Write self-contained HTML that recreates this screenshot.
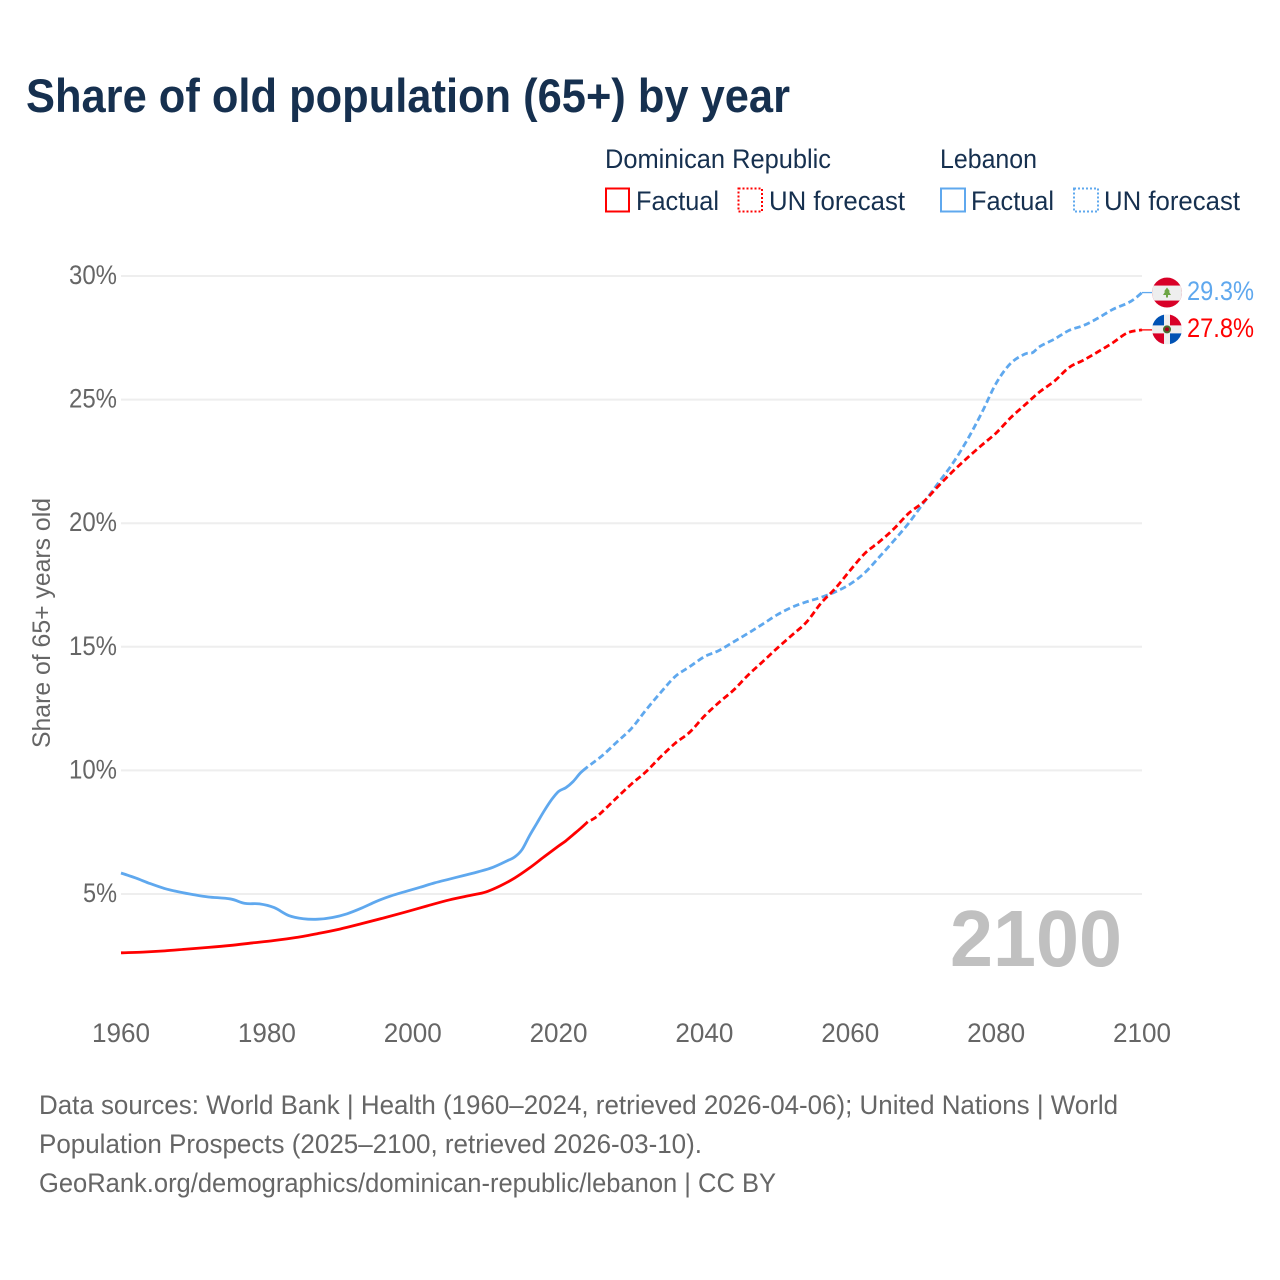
<!DOCTYPE html>
<html lang="en">
<head>
<meta charset="utf-8">
<title>Share of old population (65+) by year</title>
<style>
  html, body { margin: 0; padding: 0; background: #fff; }
  svg { display: block; }
  text { font-family: "Liberation Sans", sans-serif; }
</style>
</head>
<body>
<svg id="chart" xmlns="http://www.w3.org/2000/svg" width="1280" height="1280" viewBox="0 0 1280 1280">
  <defs>
    <clipPath id="flag-clip"><circle cx="0" cy="0" r="15"></circle></clipPath>
  </defs>
  <rect x="0" y="0" width="1280" height="1280" fill="#ffffff"></rect>

  <text x="26" y="112" font-size="47" font-weight="700" fill="#16304f" textLength="764" lengthAdjust="spacingAndGlyphs">Share of old population (65+) by year</text>

  <g font-size="27" fill="#16304f">
    <text x="605" y="168" textLength="226" lengthAdjust="spacingAndGlyphs">Dominican Republic</text>
    <rect x="606" y="188.5" width="23" height="23" fill="none" stroke="#ff0000" stroke-width="2"></rect>
    <text x="636" y="210" textLength="83" lengthAdjust="spacingAndGlyphs">Factual</text>
    <rect x="738.5" y="188.5" width="23.5" height="23" fill="none" stroke="#ff0000" stroke-width="2" stroke-dasharray="2 2"></rect>
    <text x="769" y="210" textLength="136" lengthAdjust="spacingAndGlyphs">UN forecast</text>

    <text x="940" y="168" textLength="97" lengthAdjust="spacingAndGlyphs">Lebanon</text>
    <rect x="941" y="188.5" width="24" height="23" fill="none" stroke="#5fa8ee" stroke-width="2"></rect>
    <text x="971" y="210" textLength="83" lengthAdjust="spacingAndGlyphs">Factual</text>
    <rect x="1074" y="188.5" width="24" height="23" fill="none" stroke="#5fa8ee" stroke-width="2" stroke-dasharray="2 2"></rect>
    <text x="1104" y="210" textLength="136" lengthAdjust="spacingAndGlyphs">UN forecast</text>
  </g>

  <g id="grid"></g>
  <g id="y-axis"></g>
  <g id="x-axis"></g>

  <text transform="translate(50,623) rotate(-90)" text-anchor="middle" font-size="25" fill="#666666" textLength="250" lengthAdjust="spacingAndGlyphs">Share of 65+ years old</text>

  <text x="950" y="966" font-size="80" font-weight="700" fill="#c0c0c0" textLength="172" lengthAdjust="spacingAndGlyphs">2100</text>

  <g id="series"></g>

  <g id="flag-lebanon">
    <g clip-path="url(#flag-clip)">
      <rect x="-15" y="-15" width="30" height="30" fill="#d80027"></rect>
      <rect x="-15" y="-7" width="30" height="15" fill="#eeeeee"></rect>
      <path d="M0 -5 L3 -1 L1.8 -1 L4 2.5 L1 2.5 L1 5 L-1 5 L-1 2.5 L-4 2.5 L-1.8 -1 L-3 -1 Z" fill="#6da544"></path>
    </g>
  </g>
  <g id="flag-dominican">
    <g clip-path="url(#flag-clip)">
      <rect x="-15" y="-15" width="30" height="30" fill="#eeeeee"></rect>
      <rect x="-15" y="-15" width="12" height="11" fill="#0052b4"></rect>
      <rect x="3" y="-15" width="12" height="11" fill="#d80027"></rect>
      <rect x="-15" y="4" width="12" height="11" fill="#d80027"></rect>
      <rect x="3" y="4" width="12" height="11" fill="#0052b4"></rect>
      <circle cx="0" cy="0" r="4" fill="#496e2d"></circle>
      <circle cx="0" cy="0" r="2" fill="#a2001d"></circle>
    </g>
  </g>
  <g id="end-labels"></g>

  <g font-size="27" fill="#666666">
    <text x="39" y="1114" textLength="1079" lengthAdjust="spacingAndGlyphs">Data sources: World Bank | Health (1960–2024, retrieved 2026-04-06); United Nations | World</text>
    <text x="39" y="1153" textLength="663" lengthAdjust="spacingAndGlyphs">Population Prospects (2025–2100, retrieved 2026-03-10).</text>
    <text x="39" y="1192" textLength="737" lengthAdjust="spacingAndGlyphs">GeoRank.org/demographics/dominican-republic/lebanon | CC BY</text>
  </g>
</svg>

<script>
const yTicks = [5, 10, 15, 20, 25, 30];
const xTicks = [1960, 1980, 2000, 2020, 2040, 2060, 2080, 2100];

const lebanonFactualYears = [1960,1962,1964,1966,1968,1970,1972,1975,1977,1979,1981,1983,1985,1987,1989,1991,1993,1995,1997,1999,2001,2003,2005,2007,2009,2011,2013,2014,2015,2016,2017,2018,2019,2020,2021,2022,2023,2024];
const lebanonFactualValues = [5.85,5.65,5.42,5.22,5.08,4.97,4.88,4.8,4.62,4.6,4.45,4.13,4.0,3.98,4.05,4.2,4.43,4.7,4.92,5.1,5.27,5.45,5.6,5.75,5.9,6.08,6.35,6.5,6.8,7.35,7.85,8.35,8.8,9.15,9.3,9.55,9.9,10.15];

const lebanonForecastYears = [2024,2026,2028,2030,2032,2034,2036,2038,2040,2042,2044,2046,2048,2050,2052,2054,2056,2058,2060,2062,2064,2066,2068,2070,2072,2074,2076,2078,2080,2082,2084,2085,2086,2088,2090,2092,2094,2096,2098,2099,2100];
const lebanonForecastValues = [10.15,10.6,11.15,11.7,12.45,13.15,13.8,14.2,14.6,14.85,15.2,15.55,15.92,16.3,16.6,16.82,17.0,17.23,17.54,18.0,18.64,19.3,20.0,20.8,21.6,22.4,23.35,24.45,25.66,26.47,26.85,26.9,27.15,27.45,27.8,28.0,28.3,28.65,28.9,29.08,29.33];

const dominicanFactualYears = [1960,1963,1966,1969,1972,1975,1978,1981,1984,1987,1990,1993,1996,1999,2002,2005,2008,2010,2012,2014,2016,2018,2020,2021,2022,2023,2024];
const dominicanFactualValues = [2.62,2.65,2.7,2.77,2.84,2.92,3.02,3.12,3.24,3.4,3.58,3.8,4.03,4.27,4.52,4.76,4.95,5.08,5.33,5.65,6.05,6.5,6.94,7.15,7.4,7.65,7.92];

const dominicanForecastYears = [2024,2025,2026,2028,2030,2032,2034,2036,2038,2040,2042,2044,2046,2048,2050,2052,2054,2056,2058,2060,2062,2064,2066,2068,2070,2072,2074,2076,2078,2080,2082,2084,2086,2088,2090,2092,2094,2096,2098,2100];
const dominicanForecastValues = [7.92,8.08,8.33,8.9,9.45,9.95,10.55,11.1,11.55,12.2,12.75,13.25,13.86,14.4,14.95,15.47,16.0,16.77,17.38,18.1,18.78,19.25,19.78,20.4,20.85,21.48,22.08,22.63,23.15,23.65,24.27,24.8,25.32,25.75,26.3,26.6,26.94,27.3,27.7,27.82];

const endLabels = ["29.3%", "27.8%"];
const tickSuffix = "%";

const NS = "http://www.w3.org/2000/svg";
function xScale(year) { return 121 + (year - 1960) * (1142 - 121) / 140; }
function yScale(v) { return 894 - (v - 5) * (894 - 276) / 25; }

function linePath(years, values) {
  const pts = years.map(function (yr, i) { return [xScale(yr), yScale(values[i])]; });
  let d = "M" + pts[0][0].toFixed(2) + " " + pts[0][1].toFixed(2);
  for (let i = 0; i < pts.length - 1; i++) {
    const p0 = pts[Math.max(i - 1, 0)];
    const p1 = pts[i];
    const p2 = pts[i + 1];
    const p3 = pts[Math.min(i + 2, pts.length - 1)];
    const c1x = p1[0] + (p2[0] - p0[0]) / 6;
    const c1y = p1[1] + (p2[1] - p0[1]) / 6;
    const c2x = p2[0] - (p3[0] - p1[0]) / 6;
    const c2y = p2[1] - (p3[1] - p1[1]) / 6;
    d += "C" + c1x.toFixed(2) + " " + c1y.toFixed(2) + " " + c2x.toFixed(2) + " " + c2y.toFixed(2) + " " + p2[0].toFixed(2) + " " + p2[1].toFixed(2);
  }
  return d;
}

const gridGroup = document.getElementById("grid");
const yAxisGroup = document.getElementById("y-axis");
yTicks.forEach(function (t) {
  const line = document.createElementNS(NS, "line");
  
  
  line.setAttribute("x1", 121);
  line.setAttribute("x2", 1142);
  line.setAttribute("y1", yScale(t));
  line.setAttribute("y2", yScale(t));
  line.setAttribute("stroke", "#eeeeee");
  line.setAttribute("stroke-width", "2");
  gridGroup.appendChild(line);

  const label = document.createElementNS(NS, "text");
  
  
  label.setAttribute("x", 117);
  label.setAttribute("y", yScale(t) + 8);
  label.setAttribute("text-anchor", "end");
  label.setAttribute("font-size", "26.5");
  label.setAttribute("fill", "#666666");
  label.setAttribute("textLength", String(20 + 14 * String(t).length));
  label.setAttribute("lengthAdjust", "spacingAndGlyphs");
  label.textContent = t + tickSuffix;
  yAxisGroup.appendChild(label);
});

const xAxisGroup = document.getElementById("x-axis");
xTicks.forEach(function (t) {
  const label = document.createElementNS(NS, "text");
  
  
  label.setAttribute("x", xScale(t));
  label.setAttribute("y", 1042);
  label.setAttribute("text-anchor", "middle");
  label.setAttribute("font-size", "26.5");
  label.setAttribute("fill", "#666666");
  label.setAttribute("textLength", "58");
  label.setAttribute("lengthAdjust", "spacingAndGlyphs");
  label.textContent = t;
  xAxisGroup.appendChild(label);
});

const seriesGroup = document.getElementById("series");

const lebanonFactualLine = document.createElementNS(NS, "path");


lebanonFactualLine.setAttribute("d", linePath(lebanonFactualYears, lebanonFactualValues));
lebanonFactualLine.setAttribute("fill", "none");
lebanonFactualLine.setAttribute("stroke", "#5fa8ee");
lebanonFactualLine.setAttribute("stroke-width", "2.8");
seriesGroup.appendChild(lebanonFactualLine);

const lebanonForecastLine = document.createElementNS(NS, "path");


lebanonForecastLine.setAttribute("d", linePath(lebanonForecastYears, lebanonForecastValues));
lebanonForecastLine.setAttribute("fill", "none");
lebanonForecastLine.setAttribute("stroke", "#5fa8ee");
lebanonForecastLine.setAttribute("stroke-width", "2.8");
lebanonForecastLine.setAttribute("stroke-dasharray", "6.5 3.5");
lebanonForecastLine.setAttribute("stroke-dashoffset", "-3.5");
seriesGroup.appendChild(lebanonForecastLine);

const dominicanFactualLine = document.createElementNS(NS, "path");


dominicanFactualLine.setAttribute("d", linePath(dominicanFactualYears, dominicanFactualValues));
dominicanFactualLine.setAttribute("fill", "none");
dominicanFactualLine.setAttribute("stroke", "#ff0000");
dominicanFactualLine.setAttribute("stroke-width", "2.8");
seriesGroup.appendChild(dominicanFactualLine);

const dominicanForecastLine = document.createElementNS(NS, "path");


dominicanForecastLine.setAttribute("d", linePath(dominicanForecastYears, dominicanForecastValues));
dominicanForecastLine.setAttribute("fill", "none");
dominicanForecastLine.setAttribute("stroke", "#ff0000");
dominicanForecastLine.setAttribute("stroke-width", "2.8");
dominicanForecastLine.setAttribute("stroke-dasharray", "6.5 3.5");
dominicanForecastLine.setAttribute("stroke-dashoffset", "-3.5");
seriesGroup.appendChild(dominicanForecastLine);

const lebanonLast = lebanonForecastValues[lebanonForecastValues.length - 1];
const dominicanLast = dominicanForecastValues[dominicanForecastValues.length - 1];

const lebanonConnector = document.createElementNS(NS, "line");


lebanonConnector.setAttribute("x1", 1142);
lebanonConnector.setAttribute("x2", 1153);
lebanonConnector.setAttribute("y1", yScale(lebanonLast));
lebanonConnector.setAttribute("y2", yScale(lebanonLast));
lebanonConnector.setAttribute("stroke", "#5fa8ee");
lebanonConnector.setAttribute("stroke-width", "1.3");
seriesGroup.appendChild(lebanonConnector);

const dominicanConnector = document.createElementNS(NS, "line");


dominicanConnector.setAttribute("x1", 1142);
dominicanConnector.setAttribute("x2", 1153);
dominicanConnector.setAttribute("y1", yScale(dominicanLast));
dominicanConnector.setAttribute("y2", yScale(dominicanLast));
dominicanConnector.setAttribute("stroke", "#ff0000");
dominicanConnector.setAttribute("stroke-width", "1.3");
seriesGroup.appendChild(dominicanConnector);

document.getElementById("flag-lebanon").setAttribute("transform", "translate(1167," + yScale(lebanonLast) + ")");
document.getElementById("flag-dominican").setAttribute("transform", "translate(1167," + (yScale(dominicanLast) - 0.5) + ")");

const endGroup = document.getElementById("end-labels");

const lebanonEndLabel = document.createElementNS(NS, "text");


lebanonEndLabel.setAttribute("x", 1187);
lebanonEndLabel.setAttribute("y", yScale(lebanonLast) + 7.5);
lebanonEndLabel.setAttribute("font-size", "27");
lebanonEndLabel.setAttribute("fill", "#5fa8ee");
lebanonEndLabel.setAttribute("textLength", "67");
lebanonEndLabel.setAttribute("lengthAdjust", "spacingAndGlyphs");
lebanonEndLabel.textContent = endLabels[0];
endGroup.appendChild(lebanonEndLabel);

const dominicanEndLabel = document.createElementNS(NS, "text");


dominicanEndLabel.setAttribute("x", 1187);
dominicanEndLabel.setAttribute("y", yScale(dominicanLast) + 7);
dominicanEndLabel.setAttribute("font-size", "27");
dominicanEndLabel.setAttribute("fill", "#ff0000");
dominicanEndLabel.setAttribute("textLength", "67");
dominicanEndLabel.setAttribute("lengthAdjust", "spacingAndGlyphs");
dominicanEndLabel.textContent = endLabels[1];
endGroup.appendChild(dominicanEndLabel);
</script>
</body>
</html>
